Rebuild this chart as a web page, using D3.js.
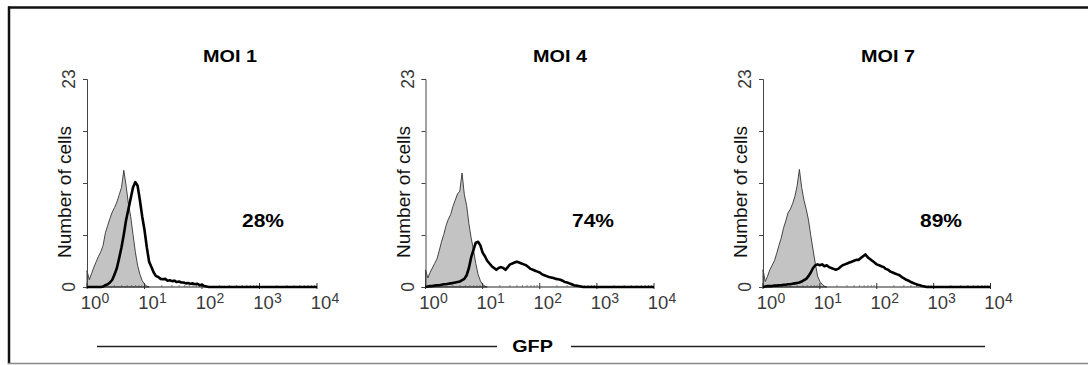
<!DOCTYPE html>
<html><head><meta charset="utf-8">
<script src="https://cdn.jsdelivr.net/npm/d3@7"></script>
<style>html,body{margin:0;padding:0;background:#fff}svg{display:block}</style>
</head><body><svg id="c" width="1088" height="365"></svg>
<script>
// ---------------- data ----------------
const panels = ["MOI 1", "MOI 4", "MOI 7"];
const percentLabels = ["28%", "74%", "89%"];
const xTickExponents = [0, 1, 2, 3, 4];
const yTickValues = [0, 5.75, 11.5, 17.25, 23];
const yTickLabels = ["0", "", "", "", "23"];
const yMax = 23;
const binStep = 0.04; // decades per histogram bin (bins start at 10^0)

const control1 = [1.8,0.8,1.5,2.2,2.8,3.4,3.9,4.6,6.0,6.8,7.6,8.3,8.8,9.4,10.2,11.0,12.9,11.2,9.2,7.8,5.8,3.9,2.4,1.4,0.7,0.3,0.1,0];
const sample1 = [0,0,0,0,0,0,0,0.05,0.2,0.3,0.5,0.8,1.4,2.1,3.2,4.4,5.8,7.4,8.6,9.8,11.0,11.6,11.2,9.6,7.8,6.3,4.4,2.8,2.2,1.6,1.2,1.1,0.9,0.85,0.9,0.7,0.75,0.65,0.7,0.55,0.6,0.5,0.5,0.4,0.45,0.35,0.4,0.3,0.35,0.2,0.25,0.1,0.05,0];
const control4 = [1.9,1.0,1.6,2.1,2.6,3.1,4.0,5.0,5.8,6.8,7.5,8.0,8.9,9.6,10.3,10.6,12.6,10.2,9.0,7.0,5.4,4.1,2.6,1.4,0.7,0.25,0.1,0];
const sample4 = [0,0.05,0.1,0.1,0.15,0.2,0.2,0.25,0.3,0.3,0.35,0.4,0.45,0.5,0.55,0.6,0.75,0.9,1.3,2.1,3.3,4.1,4.9,5.0,4.6,3.8,3.4,2.9,2.6,2.3,2.1,1.9,2.1,2.2,2.1,1.9,2.2,2.5,2.6,2.7,2.8,2.7,2.6,2.5,2.4,2.2,2.0,1.9,1.8,1.7,1.6,1.4,1.3,1.2,1.1,1.05,1.0,0.9,0.85,0.8,0.7,0.55,0.5,0.4,0.3,0.2,0.15,0.1,0.05,0];
const control7 = [1.9,0.6,1.2,1.9,2.4,2.9,3.7,4.6,5.4,6.5,7.3,8.2,8.6,9.2,10.0,11.2,13.0,11.0,9.6,8.6,7.4,5.7,4.1,2.6,1.2,0.6,0.3,0.1,0];
const sample7 = [0,0.05,0.1,0.1,0.1,0.15,0.15,0.2,0.2,0.25,0.25,0.3,0.3,0.35,0.4,0.45,0.5,0.6,0.75,0.9,1.2,1.6,2.1,2.4,2.5,2.4,2.5,2.3,2.4,2.2,2.1,2.0,1.9,2.0,2.2,2.4,2.5,2.6,2.7,2.8,2.9,3.0,3.0,3.2,3.4,3.6,3.3,3.1,2.9,2.7,2.5,2.4,2.3,2.2,2.0,1.9,1.7,1.6,1.5,1.4,1.3,1.1,0.95,0.8,0.7,0.55,0.45,0.35,0.25,0.2,0.1,0.05,0];

const controls = [control1, control4, control7];
const samples = [sample1, sample4, sample7];

// ---------------- layout ----------------
const axisX = [87, 425.5, 763];
const axisW = [230, 228.5, 227.5];
const plotTop = 79, plotBottom = 287;
const titleX = [230, 560, 888], titleY = 62;
const pctX = [263, 593, 941], pctY = 227;
const FONT = "'Liberation Sans', Arial, Helvetica, sans-serif";

const svg = d3.select("#c");

// frame
svg.append("line").attr("x1", 9).attr("x2", 9).attr("y1", 6.5).attr("y2", 364).attr("stroke", "#111").attr("stroke-width", 2.5);
svg.append("line").attr("x1", 8).attr("x2", 1088).attr("y1", 7.5).attr("y2", 7.5).attr("stroke", "#111").attr("stroke-width", 2.5);
svg.append("line").attr("x1", 8).attr("x2", 1088).attr("y1", 363.5).attr("y2", 363.5).attr("stroke", "#888").attr("stroke-width", 1.5);

const toPoints = arr => arr.map((v, i) => ({x: Math.pow(10, i * binStep), y: v}));

panels.forEach((name, p) => {
  const x = d3.scaleLog().domain([1, 10000]).range([axisX[p], axisX[p] + axisW[p]]);
  const y = d3.scaleLinear().domain([0, yMax]).range([plotBottom, plotTop]);
  const g = svg.append("g");

  // control (filled gray)
  const cp = toPoints(controls[p]);
  g.append("path").datum(cp)
    .attr("d", d3.area().x(d => x(d.x)).y0(y(0)).y1(d => y(d.y)))
    .attr("fill", "#c3c3c3").attr("stroke", "#333").attr("stroke-width", 0.9);

  // x axis line + ticks
  const minor = [];
  for (let e = 0; e < 4; e++) for (let k = 2; k <= 9; k++) minor.push(k * Math.pow(10, e));
  g.append("line").attr("x1", x(1)).attr("x2", x(10000)).attr("y1", y(0)).attr("y2", y(0)).attr("stroke", "#222").attr("stroke-width", 1);
  g.selectAll(".mn").data(minor).enter().append("line")
    .attr("x1", d => x(d)).attr("x2", d => x(d)).attr("y1", y(0)).attr("y2", y(0) - 2)
    .attr("stroke", "#555").attr("stroke-width", 0.7);
  g.selectAll(".mj").data(xTickExponents).enter().append("line")
    .attr("x1", d => x(Math.pow(10, d))).attr("x2", d => x(Math.pow(10, d))).attr("y1", y(0) + 2).attr("y2", y(0) - 4)
    .attr("stroke", "#333").attr("stroke-width", 1);
  const lbl = g.selectAll(".xl").data(xTickExponents).enter().append("text")
    .attr("x", d => x(Math.pow(10, d)) + 8).attr("y", 308.5)
    .attr("text-anchor", "middle").attr("font-family", FONT).attr("font-size", 18.5).attr("fill", "#3a3a3a");
  lbl.append("tspan").text("10");
  lbl.append("tspan").attr("dy", -6).attr("font-size", 14).text(d => d);

  // y axis
  const ya = d3.axisLeft(y).tickValues(yTickValues).tickSize(4).tickFormat("");
  const yg = g.append("g").attr("transform", `translate(${axisX[p]},0)`).call(ya);
  yg.select(".domain").attr("stroke", "#444").attr("stroke-width", 1);
  yg.selectAll(".tick line").attr("stroke", "#444");
  yg.selectAll(".ytl").data(yTickValues.filter((v, i) => yTickLabels[i] !== "")).enter().append("text")
    .attr("transform", d => `translate(${-12},${y(d)}) rotate(-90)`)
    .attr("text-anchor", "middle").attr("font-family", FONT).attr("font-size", 17.5).attr("fill", "#3a3a3a")
    .text(d => yTickLabels[yTickValues.indexOf(d)]);

  // sample (black line), continues along baseline to the end of the axis
  const sp = toPoints(samples[p]).concat([{x: 10000, y: 0}]);
  g.append("path").datum(sp)
    .attr("d", d3.line().x(d => x(d.x)).y(d => y(d.y)))
    .attr("fill", "none").attr("stroke", "#000").attr("stroke-width", 2.6).attr("stroke-linejoin", "round");

  // y label
  g.append("text").attr("transform", `translate(${axisX[p] - 16},192) rotate(-90)`)
    .attr("text-anchor", "middle").attr("font-family", FONT).attr("font-size", 19).attr("fill", "#111")
    .text("Number of cells");

  // title and percentage
  g.append("text").attr("transform", `translate(${titleX[p]},${titleY}) scale(1.2,1)`)
    .attr("text-anchor", "middle").attr("font-family", FONT).attr("font-size", 16.5).attr("font-weight", "bold").attr("fill", "#000")
    .text(name);
  g.append("text").attr("transform", `translate(${pctX[p]},${pctY}) scale(1.2,1)`)
    .attr("text-anchor", "middle").attr("font-family", FONT).attr("font-size", 17.5).attr("font-weight", "bold").attr("fill", "#000")
    .text(percentLabels[p]);
});

// shared x label
svg.append("line").attr("x1", 97).attr("x2", 497).attr("y1", 346.5).attr("y2", 346.5).attr("stroke", "#222").attr("stroke-width", 1.5);
svg.append("line").attr("x1", 571).attr("x2", 985).attr("y1", 346.5).attr("y2", 346.5).attr("stroke", "#222").attr("stroke-width", 1.5);
svg.append("text").attr("transform", "translate(532.5,352) scale(1.2,1)")
  .attr("text-anchor", "middle").attr("font-family", FONT).attr("font-size", 16.5).attr("font-weight", "bold").attr("fill", "#000")
  .text("GFP");
</script></body></html>
